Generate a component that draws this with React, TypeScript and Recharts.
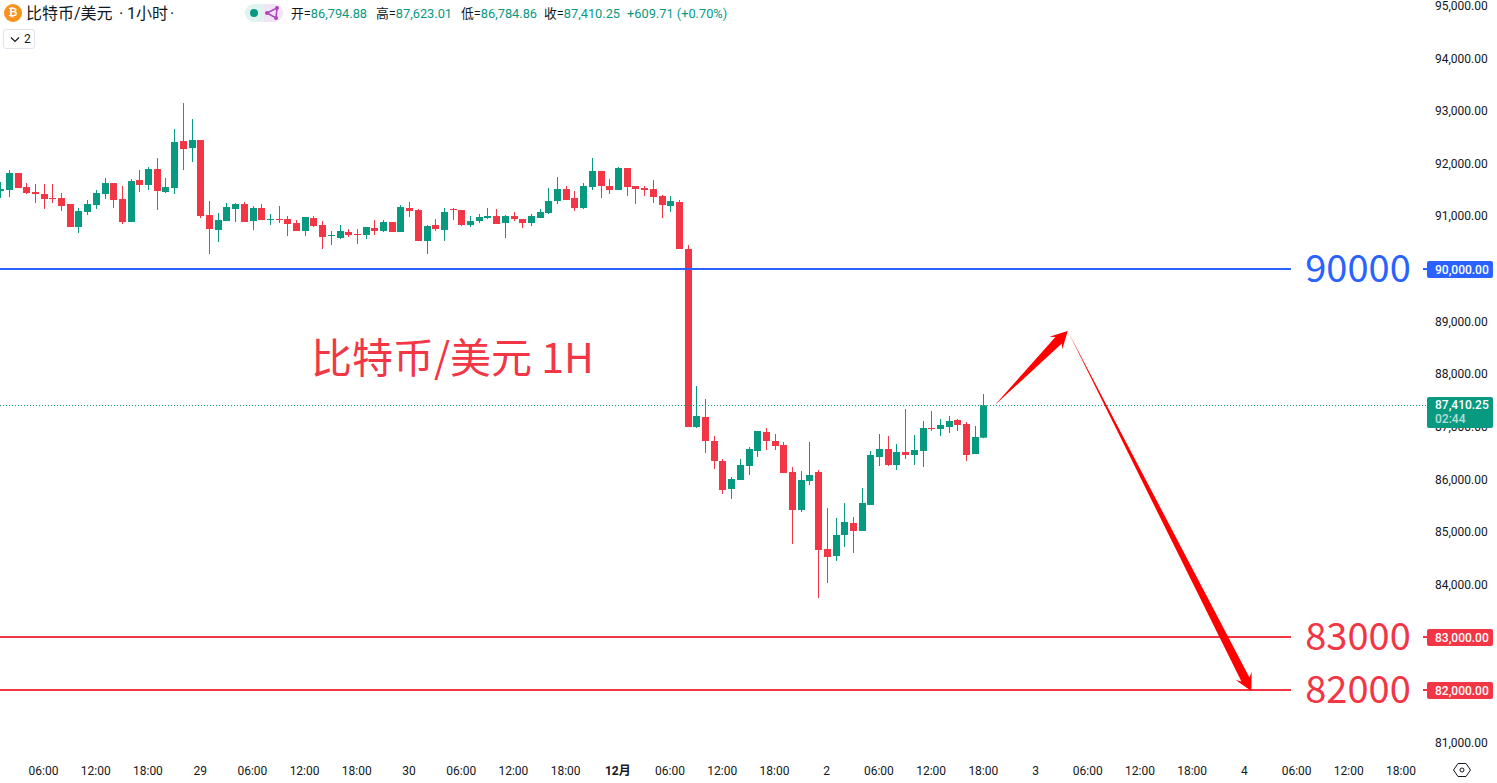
import React from 'react';
import { ComposedChart, Bar, XAxis, YAxis, ReferenceLine } from 'recharts';

const UP = '#089981';
const DOWN = '#f23645';
const BLUE = '#2962ff';
const ARROW = '#ff0000';
const INK = '#131722';
const FONT = 'Roboto, "Noto Sans CJK SC", sans-serif';
const CJK = '"Noto Sans CJK SC", sans-serif';

const opens = [
  91482, 91501, 91824, 91558, 91463, 91425, 91349, 91349, 91235, 90798,
  91083, 91216, 91425, 91634, 91330, 90893, 91691, 91596, 91900, 91463,
  91539, 92432, 92299, 92451, 91026, 90741, 90912, 91140, 91235, 90912,
  91159, 90931, 90950, 90950, 90874, 90722, 90969, 90836, 90627, 90589,
  90703, 90665, 90646, 90779, 90722, 90893, 90703, 91159, 91121, 90532,
  90836, 90741, 91140, 91121, 90836, 90912, 90969, 91007, 90874, 91007,
  90950, 90874, 90969, 91064, 91292, 91520, 91349, 91159, 91558, 91862,
  91577, 91501, 91919, 91577, 91539, 91520, 91387, 91197, 91273, 90380,
  86998, 87188, 86732, 86352, 85820, 85991, 86257, 86542, 86903, 86732,
  86656, 86143, 85421, 85972, 86143, 84680, 84547, 84946, 85174, 85022,
  85516, 86428, 86580, 86276, 86523, 86466, 86542, 86979, 86960, 86998,
  87131, 87055, 86485, 86794,
];
const highs = [
  91653, 91881, 91824, 91634, 91615, 91615, 91615, 91444, 91235, 91159,
  91311, 91501, 91729, 91634, 91577, 91710, 91881, 91938, 92109, 91729,
  92660, 93154, 92850, 92451, 91292, 91064, 91254, 91254, 91273, 91197,
  91235, 91045, 91197, 91007, 90931, 90988, 91007, 90912, 90722, 90836,
  90760, 90760, 90798, 90931, 90931, 90893, 91216, 91273, 91140, 90836,
  90950, 91159, 91159, 91121, 91007, 91045, 91159, 91140, 91026, 91083,
  90950, 91045, 91140, 91539, 91748, 91577, 91482, 91634, 92109, 91862,
  91710, 91938, 91919, 91577, 91577, 91691, 91406, 91387, 91311, 90456,
  87777, 87530, 86827, 86390, 86048, 86390, 86618, 86922, 86979, 86865,
  86713, 86238, 86162, 86713, 86181, 85459, 85269, 85554, 85288, 85839,
  86542, 86865, 86827, 86675, 87340, 86846, 87112, 87302, 87150, 87207,
  87150, 87093, 87017, 87623,
];
const lows = [
  91349, 91368, 91539, 91425, 91254, 91140, 91254, 91102, 90798, 90684,
  91026, 91140, 91330, 91159, 90855, 90893, 91463, 91501, 91121, 91444,
  91425, 91881, 92033, 90969, 90285, 90513, 90912, 90893, 90893, 90741,
  90931, 90836, 90874, 90627, 90722, 90627, 90798, 90380, 90456, 90570,
  90608, 90475, 90570, 90646, 90703, 90703, 90703, 90988, 90532, 90285,
  90722, 90532, 90931, 90817, 90798, 90874, 90950, 90855, 90589, 90912,
  90779, 90817, 90969, 91045, 91235, 91311, 91102, 91140, 91501, 91349,
  91425, 91501, 91387, 91235, 91387, 91254, 90969, 91083, 90380, 86998,
  86979, 86504, 86200, 85725, 85630, 85991, 86086, 86428, 86561, 86561,
  86124, 84775, 85383, 85896, 83749, 84034, 84452, 84718, 84604, 85022,
  85516, 86257, 86257, 86181, 86390, 86276, 86238, 86922, 86827, 86884,
  86922, 86352, 86485, 86785,
];
const closes = [
  91520, 91824, 91539, 91444, 91425, 91330, 91330, 91197, 90798, 91102,
  91235, 91444, 91634, 91311, 90893, 91672, 91596, 91900, 91482, 91558,
  92413, 92280, 92451, 91007, 90760, 90931, 91178, 91235, 90893, 91159,
  90931, 90950, 90931, 90855, 90722, 90988, 90817, 90608, 90646, 90722,
  90646, 90646, 90798, 90722, 90893, 90703, 91178, 91102, 90532, 90817,
  90760, 91083, 91121, 90836, 90912, 90988, 91007, 90855, 91007, 90950,
  90874, 91007, 91083, 91292, 91520, 91311, 91159, 91577, 91862, 91577,
  91501, 91919, 91558, 91520, 91501, 91368, 91216, 91292, 90380, 86998,
  87207, 86732, 86352, 85801, 86010, 86276, 86580, 86922, 86732, 86637,
  86124, 85421, 85991, 86086, 84661, 84528, 84946, 85193, 85022, 85554,
  86466, 86580, 86276, 86523, 86466, 86561, 86979, 86960, 87036, 87112,
  87036, 86466, 86808, 87410,
];

const lastPrice = 87410.25;
const countdown = '02:44';
const levelPrices = [90000, 83000, 82000];
const levelColors = [BLUE, DOWN, DOWN];
// the last price goes last so its tag covers the 87,000 label
const priceTicks = [
  81000, 82000, 83000, 84000, 85000, 86000, 87000, 88000,
  89000, 90000, 91000, 92000, 93000, 94000, 95000, lastPrice,
];
const timeTicks = [
  5, 11, 17, 23, 29, 35, 41, 47, 53, 59, 65, 71, 77, 83,
  89, 95, 101, 107, 113, 119, 125, 131, 137, 143, 149, 155, 161,
];
const timeLabels = [
  '06:00', '12:00', '18:00', '29', '06:00', '12:00', '18:00', '30', '06:00',
  '12:00', '18:00', '12月', '06:00', '12:00', '18:00', '2', '06:00', '12:00',
  '18:00', '3', '06:00', '12:00', '18:00', '4', '06:00', '12:00', '18:00',
];
// projected path: x in bars, y in price
const pathBars = [114.3, 122.7, 143.8];
const pathPrices = [87410, 88822, 81980];

const candles = opens.map((open, i) => ({
  i,
  open,
  high: highs[i],
  low: lows[i],
  close: closes[i],
  range: [lows[i], highs[i]],
}));

const fmt = (v: number) =>
  v.toLocaleString('en-US', { minimumFractionDigits: 2, maximumFractionDigits: 2 });

const Candle = (props: any) => {
  const { x, y, width, height, payload } = props;
  const { open, high, low, close } = payload;
  const color = close >= open ? UP : DOWN;
  const perUnit = height / (high - low);
  const top = y + (high - Math.max(open, close)) * perUnit;
  const bodyH = Math.max(Math.abs(open - close) * perUnit, 1);
  const wick = Math.round(x + width / 2);
  return (
    <g>
      <rect x={wick} y={y} width={1} height={height} fill={color} />
      <rect x={wick - 3} y={top} width={7} height={bodyH} fill={color} />
    </g>
  );
};

const PriceLevel = (props: any) => {
  const { x1, x2, y1, color, value } = props;
  const y = Math.round(y1);
  const left = Math.min(x1, x2);
  const right = Math.max(x1, x2);
  return (
    <g>
      <rect x={left} y={y - 1} width={1291 - left} height={2} fill={color} />
      <text x={1358} y={y + 13} textAnchor="middle" fontSize={38} fontFamily={CJK} fill={color}>
        {String(value)}
      </text>
      <rect x={1423} y={y - 1} width={right - 1423} height={2} fill={color} />
    </g>
  );
};

const LastPriceLine = (props: any) => {
  const { x1, x2, y1 } = props;
  const y = Math.round(y1) + 0.5;
  return <line x1={Math.min(x1, x2)} x2={Math.max(x1, x2)} y1={y} y2={y} stroke={UP} strokeDasharray="1 2" />;
};

const PriceTick = (props: any) => {
  const { x, y, payload } = props;
  const value = payload.value;
  const cy = Math.round(y);
  const level = levelPrices.indexOf(value);
  if (value === lastPrice) {
    return (
      <g>
        <rect x={x - 8} y={cy - 8} width={66} height={31} rx={2} fill={UP} />
        <text x={x} y={cy + 4} fontSize={12} fontFamily={FONT} fontWeight={500} fill="#fff">
          {fmt(value)}
        </text>
        <text x={x} y={cy + 18} fontSize={12} fontFamily={FONT} fontWeight={500} fill="rgba(255,255,255,0.7)">
          {countdown}
        </text>
      </g>
    );
  }
  if (level >= 0) {
    return (
      <g>
        <rect x={x - 8} y={cy - 8} width={66} height={17} rx={2} fill={levelColors[level]} />
        <text x={x} y={cy + 4.5} fontSize={12} fontFamily={FONT} fontWeight={500} fill="#fff">
          {fmt(value)}
        </text>
      </g>
    );
  }
  return (
    <text x={x} y={y + 4} fontSize={12} fontFamily={FONT} fill={INK}>
      {fmt(value)}
    </text>
  );
};

// tapered arrow, thin at the start and thick at the tip
const TaperArrow = (props: any) => {
  const { x1, y1, x2, y2 } = props;
  const len = Math.hypot(x2 - x1, y2 - y1);
  const ux = (x2 - x1) / len;
  const uy = (y2 - y1) / len;
  const at = (back: number, side: number) =>
    `${x2 - ux * back - uy * side},${y2 - uy * back + ux * side}`;
  const pts = [
    `${x1},${y1}`,
    at(13, 4.5),
    at(17, 9),
    `${x2},${y2}`,
    at(17, -9),
    at(13, -4.5),
  ].join(' ');
  return <polygon points={pts} fill={ARROW} />;
};

const TimeTick = (props: any) => {
  const { x, y, index } = props;
  const label = timeLabels[index];
  return (
    <text
      x={x}
      y={y + 14}
      textAnchor="middle"
      fontSize={12}
      fontFamily={FONT}
      fontWeight={label === '12月' ? 700 : 400}
      fill={INK}
    >
      {label}
    </text>
  );
};

const headerItems = [
  { left: 291, key: '开', value: '86,794.88' },
  { left: 376, key: '高', value: '87,623.01' },
  { left: 461, key: '低', value: '86,784.86' },
  { left: 544, key: '收', value: '87,410.25' },
];

const titleParts = [
  { left: 26, text: '比特币/美元' },
  { left: 119, text: '·' },
  { left: 127, text: '1小时' },
  { left: 170, text: '·' },
];

const Header = () => (
  <div style={{ fontFamily: FONT, color: INK }}>
    <div
      style={{
        position: 'absolute', left: 4, top: 4, width: 18, height: 18, borderRadius: 9,
        background: '#f7931a', color: '#fff', fontSize: 11, lineHeight: '18px', textAlign: 'center',
        fontFamily: '"DejaVu Sans", sans-serif', fontWeight: 700,
      }}
    >
      ₿
    </div>
    {titleParts.map((p) => (
      <div
        key={p.left}
        style={{ position: 'absolute', left: p.left, top: 3, fontSize: 16, lineHeight: '22px', whiteSpace: 'nowrap' }}
      >
        {p.text}
      </div>
    ))}
    <div
      style={{
        position: 'absolute', left: 3, top: 29, width: 30, height: 18, border: '1px solid #e0e3eb',
        borderRadius: 3, fontSize: 12, lineHeight: '18px',
      }}
    >
      <svg width={10} height={8} style={{ position: 'absolute', left: 6, top: 6 }}>
        <path d="M1 1.5 L5 5.5 L9 1.5" fill="none" stroke={INK} strokeWidth={1.2} />
      </svg>
      <span style={{ position: 'absolute', left: 20 }}>2</span>
    </div>
    <div
      style={{
        position: 'absolute', left: 245, top: 4, width: 19, height: 18, background: '#e0f3ef',
        borderRadius: '9px 0 0 9px',
      }}
    />
    <div
      style={{
        position: 'absolute', left: 264, top: 4, width: 19, height: 18, background: '#f3e3f6',
        borderRadius: '0 9px 9px 0',
      }}
    />
    <svg width={40} height={20} style={{ position: 'absolute', left: 245, top: 3 }}>
      <circle cx={9} cy={10} r={4} fill={UP} />
      <path d="M22 10 L32 5 L31 15 Z" fill="none" stroke="#ab47bc" strokeWidth={1.6} />
      <circle cx={22} cy={10} r={2} fill="#ab47bc" />
      <circle cx={32} cy={5} r={2} fill="#ab47bc" />
      <circle cx={31} cy={15} r={2} fill="#ab47bc" />
    </svg>
    {headerItems.map((h) => (
      <div
        key={h.key}
        style={{ position: 'absolute', left: h.left, top: 5, fontSize: 12.8, lineHeight: '18px', whiteSpace: 'nowrap' }}
      >
        {h.key}=<span style={{ color: UP }}>{h.value}</span>
      </div>
    ))}
    <div
      style={{
        position: 'absolute', left: 627, top: 5, fontSize: 12.8, lineHeight: '18px', color: UP, whiteSpace: 'nowrap',
      }}
    >
      +609.71 (+0.70%)
    </div>
    <div
      style={{
        position: 'absolute', left: 311, top: 327, fontSize: 41, lineHeight: '56px',
        color: DOWN, whiteSpace: 'nowrap', fontFamily: CJK,
      }}
    >
      比特币/美元 1H
    </div>
    <svg width={20} height={20} style={{ position: 'absolute', left: 1452, top: 760 }}>
      <path d="M1.5 10 L6 3.5 L14 3.5 L18.5 10 L14 16.5 L6 16.5 Z" fill="none" stroke={INK} strokeWidth={1} />
      <circle cx={10} cy={10} r={2} fill="none" stroke={INK} strokeWidth={1} />
    </svg>
  </div>
);

export default function App() {
  return (
    <div style={{ position: 'absolute', left: 0, top: 0, width: 1497, height: 783, background: '#fff' }}>
      <ComposedChart
        width={1497}
        height={783}
        data={candles}
        margin={{ top: 0, right: 0, bottom: 0, left: 0 }}
      >
        <XAxis
          dataKey="i"
          type="number"
          domain={[0, 164.1]}
          ticks={timeTicks}
          interval={0}
          height={30}
          axisLine={false}
          tickLine={false}
          tick={<TimeTick />}
          allowDecimals={false}
        />
        <YAxis
          orientation="right"
          width={69}
          domain={[80803, 95112]}
          ticks={priceTicks}
          interval={0}
          axisLine={false}
          tickLine={false}
          tickSize={0}
          tickMargin={7}
          tick={<PriceTick />}
        />
        <Bar dataKey="range" barSize={7} isAnimationActive={false} shape={<Candle />} />
        {levelPrices.map((price, k) => (
          <ReferenceLine
            key={price}
            y={price}
            shape={<PriceLevel color={levelColors[k]} value={price} />}
          />
        ))}
        <ReferenceLine y={lastPrice} shape={<LastPriceLine />} />
        <ReferenceLine
          segment={[
            { x: pathBars[1], y: pathPrices[1] },
            { x: pathBars[2], y: pathPrices[2] },
          ]}
          shape={<TaperArrow />}
        />
        <ReferenceLine
          segment={[
            { x: pathBars[0], y: pathPrices[0] },
            { x: pathBars[1], y: pathPrices[1] },
          ]}
          shape={<TaperArrow />}
        />
      </ComposedChart>
      <Header />
    </div>
  );
}
